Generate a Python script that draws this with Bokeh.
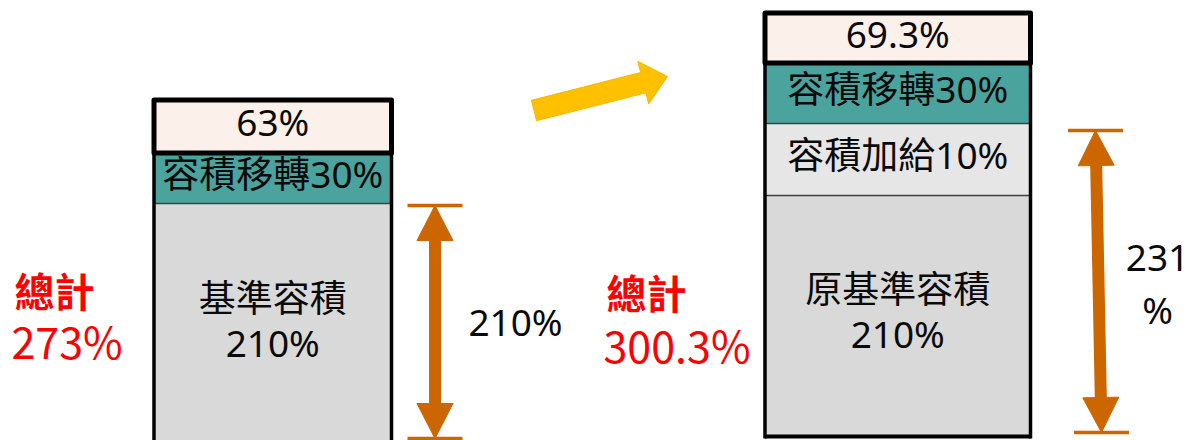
import numpy as np
from bokeh.plotting import figure
from bokeh.models import Range1d
from bokeh.core.properties import value
from bokeh.embed import file_html
from bokeh.resources import INLINE

# ---------------- data ----------------
bar_names = ["現行", "調整後"]
left_labels = ["基準容積\n210%", "容積移轉30%", "63%"]
left_values = [210, 30, 63]
right_labels = ["原基準容積\n210%", "容積加給10%", "容積移轉30%", "69.3%"]
right_values = [210, 10, 30, 69.3]
total_title = "總計"
total_labels = ["273%", "300.3%"]
span_labels = ["210%", "231\n%"]

# ---------------- layout / style (schematic, not to scale) ----------------
FONT = "Noto Sans CJK TC"
LABEL_FONT = "Noto Sans, Noto Sans CJK TC"
W, H = 1190, 440
TDY = -5.0          # vertical correction of text centre
LINE_GAP = 45.0     # distance between lines of a two-line label
left_geom = dict(x0=153.5, x1=391.0, bottom=446.0, heights=[243.0, 50.5, 53.0])
right_geom = dict(x0=764.5, x1=1030.0, bottom=436.0, heights=[241.0, 72.0, 60.5, 50.0])
left_colors = ["#D9D9D9", "#4BA39E", "#FCF1EA"]
right_colors = ["#D9D9D9", "#E7E6E6", "#4BA39E", "#FCF1EA"]
ORANGE = "#CC6600"
GOLD = "#FFC000"
RED = "#FF0000"
LABEL_SIZE = "37px"
LABEL_COLOR = "#0A0A0A"

p = figure(width=W, height=H, output_backend="svg", toolbar_location=None,
           x_range=Range1d(0, W), y_range=Range1d(H, 0),
           min_border=0, tools="")
p.axis.visible = False
p.grid.visible = False
p.outline_line_color = None
p.background_fill_color = "white"


def put_lines(xs, ys, labels, gap, font=FONT, **kw):
    """Place (possibly multi-line) labels, each line as its own text row."""
    tx, ty, tt = [], [], []
    for x, y, lab in zip(xs, ys, labels):
        lines = lab.split("\n")
        k = len(lines)
        for i, line in enumerate(lines):
            tx.append(x)
            ty.append(y + TDY + (i - (k - 1) / 2) * gap)
            tt.append(line)
    p.text(x=tx, y=ty, text=tt, text_baseline="middle", text_font=value(font), **kw)


def draw_bar(geom, colors, labels, values):
    x0, x1, bottom = geom["x0"], geom["x1"], geom["bottom"]
    h = np.array(geom["heights"])
    assert len(h) == len(values) == len(labels)
    bottoms = bottom - np.concatenate([[0], np.cumsum(h)[:-1]])
    tops = bottom - np.cumsum(h)
    n = len(h)
    p.quad(left=x0, right=x1, top=tops[:-1], bottom=bottoms[:-1],
           fill_color=colors[:-1], line_color=None)
    if n > 2:
        p.segment(x0=[x0] * (n - 2), x1=[x1] * (n - 2), y0=tops[:n - 2], y1=tops[:n - 2],
                  line_color="#404040", line_width=1.5)
    p.segment(x0=[x0, x1], x1=[x0, x1], y0=[tops[-2]] * 2, y1=[bottom + 2] * 2,
              line_color="black", line_width=3.5)
    p.segment(x0=[x0], x1=[x1], y0=[bottom], y1=[bottom], line_color="black", line_width=4)
    p.quad(left=x0, right=x1, top=tops[-1], bottom=bottoms[-1], fill_color=colors[-1],
           line_color="black", line_width=5, line_join="round")
    xc = (x0 + x1) / 2
    yc = (tops + bottoms) / 2
    put_lines([xc] * n, yc, labels, LINE_GAP, font=LABEL_FONT, text_align="center",
              text_font_size=LABEL_SIZE, text_color=LABEL_COLOR)


draw_bar(left_geom, left_colors, left_labels, left_values)
draw_bar(right_geom, right_colors, right_labels, right_values)


def span_arrow(xt, yt, xb, yb, cap_half, head_len=35.0, head_half=18.0, shaft=12.0):
    p.segment(x0=[xt - cap_half, xb - cap_half], x1=[xt + cap_half, xb + cap_half],
              y0=[yt, yb], y1=[yt, yb], line_color=ORANGE, line_width=3.5)
    d = np.array([xb - xt, yb - yt]); u = d / np.hypot(*d)
    nrm = np.array([-u[1], u[0]])
    t = np.array([xt, yt]); b = np.array([xb, yb])
    tb = t + u * head_len; bb = b - u * head_len
    p.segment(x0=[tb[0]], y0=[tb[1]], x1=[bb[0]], y1=[bb[1]], line_color=ORANGE, line_width=shaft)
    heads_x = [[t[0], tb[0] + nrm[0] * head_half, tb[0] - nrm[0] * head_half],
               [b[0], bb[0] + nrm[0] * head_half, bb[0] - nrm[0] * head_half]]
    heads_y = [[t[1], tb[1] + nrm[1] * head_half, tb[1] - nrm[1] * head_half],
               [b[1], bb[1] + nrm[1] * head_half, bb[1] - nrm[1] * head_half]]
    p.patches(xs=heads_x, ys=heads_y, fill_color=ORANGE, line_color=ORANGE, line_width=1)


span_arrow(434.5, 205.0, 434.5, 438.0, 27.5)
span_arrow(1095.0, 130.0, 1101.0, 432.0, 27.5)
put_lines([515, 1157], [326, 288], span_labels, 51.0, font=LABEL_FONT, text_align="center",
          text_font_size=LABEL_SIZE, text_color=LABEL_COLOR)

# totals (red)
put_lines([14, 606], [294, 296], [total_title] * 2, 0, text_align="left",
          text_font_size="40px", text_font_style="bold", text_color=RED)
put_lines([11, 603], [344, 348], total_labels, 0, text_align="left",
          text_font_size="43px", text_color=RED)

# yellow block arrow between the two bars
tail = np.array([533.5, 110.0]); tip = np.array([667.0, 76.0])
d = tip - tail; u = d / np.hypot(*d); nrm = np.array([-u[1], u[0]])
hb = tip - u * 25.0
sw, hw = 10.5, 22.0
pts = [tail + nrm * sw, hb + nrm * sw, hb + nrm * hw, tip, hb - nrm * hw, hb - nrm * sw, tail - nrm * sw]
p.patch(x=[q[0] for q in pts], y=[q[1] for q in pts], fill_color=GOLD, line_color="#F5B800",
        line_width=1)

open("out.html", "w").write(file_html(p, INLINE))
